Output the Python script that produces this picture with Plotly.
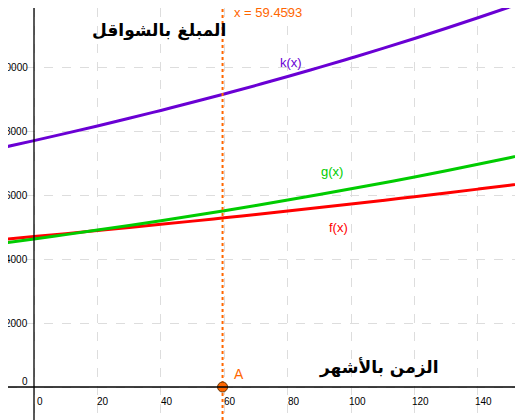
import plotly.graph_objects as go

months = [-10, 0, 10, 20, 30, 40, 50, 60, 70, 80, 90, 100, 110, 120, 130, 140, 150, 160]
f_vals = [4609, 4700, 4793, 4888, 4985, 5083, 5184, 5287, 5391, 5498, 5607, 5718, 5831, 5946, 6064, 6184, 6306, 6431]
g_vals = [4492, 4625, 4762, 4903, 5048, 5198, 5352, 5510, 5674, 5842, 6015, 6193, 6376, 6565, 6760, 6960, 7166, 7379]
k_vals = [7481, 7700, 7926, 8158, 8397, 8643, 8897, 9158, 9426, 9703, 9987, 10280, 10581, 10891, 11210, 11539, 11877, 12225]
x_a = 59.4593
x_ticks = [0, 20, 40, 60, 80, 100, 120, 140]
y_ticks = [0, 2000, 4000, 6000, 8000, 10000]

# page body has an 8px margin, so the figure is drawn 8px smaller and the ranges trimmed to match
xr = [-8.2, 154.2]
yr = [-1031, 11844]

fig = go.Figure()
for vals, col in [(f_vals, '#ff0000'), (g_vals, '#00cc00'), (k_vals, '#6a00d4')]:
    fig.add_trace(go.Scatter(x=months, y=vals, mode='lines', line=dict(color=col, width=3, shape='spline'),
                             showlegend=False, hoverinfo='skip'))

fig.add_trace(go.Scatter(x=[x_a, x_a], y=[yr[0], yr[1]], mode='lines',
                         line=dict(color='#ff6600', width=2, dash='dot'), showlegend=False))
fig.add_trace(go.Scatter(x=[x_a], y=[0], mode='markers',
                         marker=dict(color='#ff6600', size=10, line=dict(color='#663300', width=1)), showlegend=False))

# axes lines
fig.add_shape(type='line', x0=xr[0], x1=xr[1], y0=0, y1=0, line=dict(color='black', width=1.3))
fig.add_shape(type='line', x0=0, x1=0, y0=yr[0], y1=yr[1], line=dict(color='black', width=1.3))

for t in x_ticks:
    fig.add_annotation(x=t, y=0, text=str(t), showarrow=False, yshift=-14, xshift=6,
                       font=dict(size=10, color='black'))
for t in y_ticks:
    fig.add_annotation(x=0, y=t, text=str(t), showarrow=False, xanchor='right', xshift=-4, yshift=6 if t == 0 else 0,
                       font=dict(size=10, color='black'))

labels = [(77, 10156, 'k(x)', '#6a00d4'), (90, 6720, 'g(x)', '#00cc00'), (92.4, 4970, 'f(x)', '#ff0000'),
          (62.4, 11700, 'x = 59.4593', '#ff6600'), (62.5, 400, 'A', '#ff6600')]
for x, y, t, c in labels:
    fig.add_annotation(x=x, y=y, text=t, showarrow=False, xanchor='left',
                       font=dict(size=14 if t == 'A' else 13, color=c))

fig.add_annotation(x=0.159, y=0.976, xref='paper', yref='paper', text='<b>المبلغ بالشواقل</b>', showarrow=False,
                   font=dict(size=17, color='black', family='DejaVu Sans'))
fig.add_annotation(x=0.839, y=0.097, xref='paper', yref='paper', text='<b>الزمن بالأشهر</b>', showarrow=False,
                   font=dict(size=17, color='black', family='DejaVu Sans'))

grid = dict(showgrid=True, gridcolor='#dddddd', griddash='dash', gridwidth=1, zeroline=False,
            showticklabels=False, ticks='')
fig.update_layout(
    width=515, height=412, margin=dict(l=0, r=0, t=0, b=0),
    plot_bgcolor='white', paper_bgcolor='white',
    xaxis=dict(range=xr, tickvals=x_ticks, **grid),
    yaxis=dict(range=yr, tickvals=y_ticks, **grid),
    font=dict(family='Liberation Sans'),
)
fig.write_html("out.html")
